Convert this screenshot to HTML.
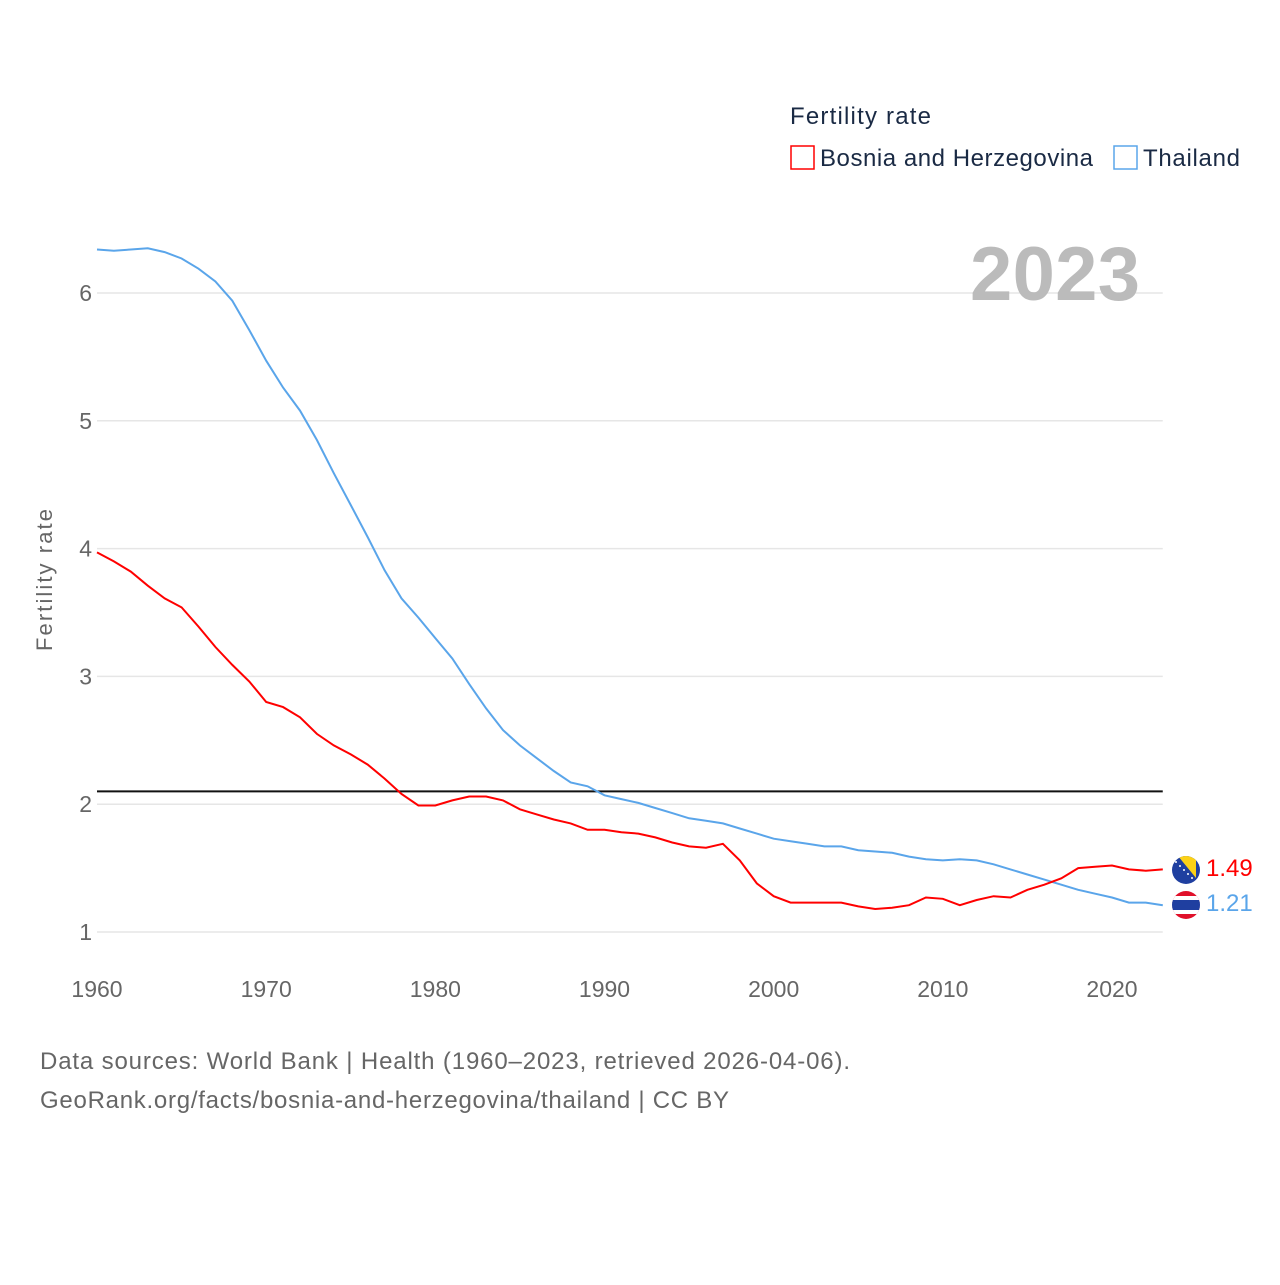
<!DOCTYPE html>
<html><head><meta charset="utf-8"><style>
body{margin:0;background:#fff;font-family:"Liberation Sans",sans-serif}
</style></head><body>
<svg width="1280" height="1280" viewBox="0 0 1280 1280" xmlns="http://www.w3.org/2000/svg">
<defs>
<clipPath id="c1"><circle cx="1186" cy="870" r="14"/></clipPath>
<clipPath id="c2"><circle cx="1186" cy="905" r="14"/></clipPath>
</defs>
<g id="grid"></g>
<g id="yticks"></g>
<g id="xticks"></g>
<text x="52" y="580" transform="rotate(-90 52 580)" text-anchor="middle" font-size="22" fill="#666" textLength="142">Fertility rate</text>
<text x="1140" y="300" text-anchor="end" font-size="76" font-weight="bold" fill="#bbb" textLength="170">2023</text>
<line id="repl" stroke="#111" stroke-width="2"/>
<path id="thai" fill="none" stroke="#5aa5ea" stroke-width="2"/>
<path id="bih" fill="none" stroke="#f00" stroke-width="2"/>
<g>
<text x="790" y="124" font-size="24" fill="#1a2a44" textLength="141">Fertility rate</text>
<rect x="791" y="146" width="23" height="23" fill="none" stroke="#f00" stroke-width="1.5"/>
<text x="820" y="166" font-size="24" fill="#1a2a44" textLength="273">Bosnia and Herzegovina</text>
<rect x="1114" y="146" width="23" height="23" fill="none" stroke="#5aa5ea" stroke-width="1.5"/>
<text x="1143" y="166" font-size="24" fill="#1a2a44" textLength="97">Thailand</text>
</g>
<g id="flagB" clip-path="url(#c1)">
<rect x="1172" y="856" width="28" height="28" fill="#1f3fa0"/>
<polygon points="1178,856 1196,856 1196,878" fill="#fcd116"/>
<g fill="#fff"><circle cx="1176" cy="862" r="1"/><circle cx="1180" cy="866" r="1"/><circle cx="1184" cy="870" r="1"/><circle cx="1188" cy="874" r="1"/><circle cx="1192" cy="878" r="1"/></g>
</g>
<g id="flagT" clip-path="url(#c2)">
<rect x="1172" y="891" width="28" height="28" fill="#e0102a"/>
<rect x="1172" y="896" width="28" height="18" fill="#fff"/>
<rect x="1172" y="900" width="28" height="10" fill="#1f3fa0"/>
</g>
<text id="lblB" x="1206" y="876" font-size="24" fill="#f00">1.49</text>
<text id="lblT" x="1206" y="911" font-size="24" fill="#5aa5ea">1.21</text>
<text x="40" y="1069" font-size="24" fill="#666" textLength="810">Data sources: World Bank | Health (1960–2023, retrieved 2026-04-06).</text>
<text x="40" y="1108" font-size="24" fill="#666" textLength="689">GeoRank.org/facts/bosnia-and-herzegovina/thailand | CC BY</text>
</svg>
<script>
const startYear = 1960;
const thailand = [6.34,6.33,6.34,6.35,6.32,6.27,6.19,6.09,5.94,5.71,5.47,5.26,5.08,4.85,4.59,4.34,4.09,3.83,3.61,3.46,3.30,3.14,2.94,2.75,2.58,2.46,2.36,2.26,2.17,2.14,2.07,2.04,2.01,1.97,1.93,1.89,1.87,1.85,1.81,1.77,1.73,1.71,1.69,1.67,1.67,1.64,1.63,1.62,1.59,1.57,1.56,1.57,1.56,1.53,1.49,1.45,1.41,1.37,1.33,1.30,1.27,1.23,1.23,1.21];
const bosnia = [3.97,3.90,3.82,3.71,3.61,3.54,3.39,3.23,3.09,2.96,2.80,2.76,2.68,2.55,2.46,2.39,2.31,2.20,2.08,1.99,1.99,2.03,2.06,2.06,2.03,1.96,1.92,1.88,1.85,1.80,1.80,1.78,1.77,1.74,1.70,1.67,1.66,1.69,1.56,1.38,1.28,1.23,1.23,1.23,1.23,1.20,1.18,1.19,1.21,1.27,1.26,1.21,1.25,1.28,1.27,1.33,1.37,1.42,1.50,1.51,1.52,1.49,1.48,1.49];
const yTicks = [1,2,3,4,5,6];
const xTicks = [1960,1970,1980,1990,2000,2010,2020];
const replacement = 2.1;
const NS="http://www.w3.org/2000/svg";
const X=y=>97+(y-1960)*(1015/60);
const Y=v=>932-(v-1)*127.8;
const xEnd=X(startYear+thailand.length-1);
const g=document.getElementById('grid'),yt=document.getElementById('yticks'),xt=document.getElementById('xticks');
yTicks.forEach(v=>{
 const l=document.createElementNS(NS,'line');
 l.setAttribute('x1',97);l.setAttribute('x2',xEnd);l.setAttribute('y1',Y(v));l.setAttribute('y2',Y(v));
 l.setAttribute('stroke','#e6e6e6');l.setAttribute('stroke-width','1.5');
 
 
 g.appendChild(l);
 const t=document.createElementNS(NS,'text');
 t.setAttribute('x',92);t.setAttribute('y',Y(v)+8);t.setAttribute('text-anchor','end');
 t.setAttribute('font-size','23');t.setAttribute('fill','#666');t.textContent=v;
 
 
 yt.appendChild(t);
});
xTicks.forEach(v=>{
 const t=document.createElementNS(NS,'text');
 t.setAttribute('x',X(v));t.setAttribute('y',997);t.setAttribute('text-anchor','middle');
 t.setAttribute('font-size','23');t.setAttribute('fill','#666');t.textContent=v;
 
 
 xt.appendChild(t);
});
const r=document.getElementById('repl');
r.setAttribute('x1',97);r.setAttribute('x2',xEnd);r.setAttribute('y1',Y(replacement));r.setAttribute('y2',Y(replacement));
const path=a=>a.map((v,i)=>(i?'L':'M')+X(startYear+i).toFixed(1)+','+Y(v).toFixed(1)).join('');
document.getElementById('thai').setAttribute('d',path(thailand));
document.getElementById('bih').setAttribute('d',path(bosnia));
document.getElementById('lblB').textContent=bosnia[bosnia.length-1].toFixed(2);
document.getElementById('lblT').textContent=thailand[thailand.length-1].toFixed(2);
</script>
</body></html>
